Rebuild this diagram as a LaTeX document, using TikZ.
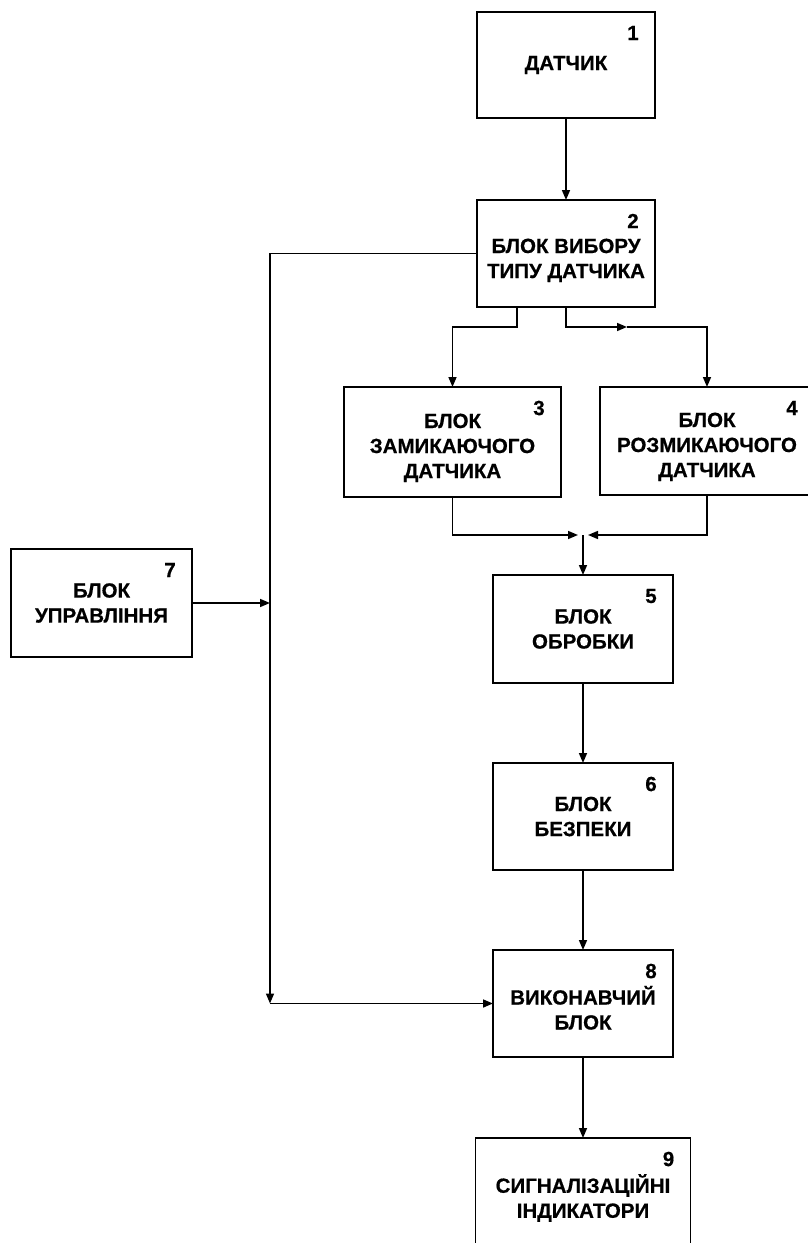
\documentclass[tikz,border=0pt]{standalone}
\usepackage{fontspec}
\setmainfont{Liberation Sans}[BoldFeatures={FakeBold=0.6}]
\usetikzlibrary{arrows.meta, positioning, calc}
\newcommand{\dropped}[2]{\raisebox{0pt}[\dimexpr\height+#1\relax]{\begin{tabular}{@{}c@{}}#2\end{tabular}}}

\begin{document}
\begin{tikzpicture}[
    x=1pt, y=-1pt,
    node distance=80pt,
    blk/.style={draw, line width=1.6pt, inner sep=0pt, outer sep=0pt, align=center, font=\bfseries\fontsize{20.5}{25}\selectfont},
    arrow/.style={-{Triangle[length=10pt, width=8pt]}, line width=1.6pt},
    num/.style={font=\bfseries\fontsize{20.5}{20}\selectfont, anchor=center, xshift=-22pt, yshift=-21pt}
  ]
  \useasboundingbox (0,0) rectangle (808,1243);

  % Sensor and selector
  \node[blk, minimum width=178pt, minimum height=106pt, label={[num]north east:1}] (b1) at (566,65) {ДАТЧИК};
  \node[blk, minimum width=178pt, minimum height=107pt, below=82pt of b1, label={[num]north east:2}] (b2) {\dropped{14pt}{БЛОК ВИБОРУ\\ТИПУ ДАТЧИКА}};

  % Sensor type blocks
  \node[blk, minimum width=217pt, minimum height=110pt, label={[num]north east:3}] (b3) at (452.5,442) {\dropped{12pt}{БЛОК\\ЗАМИКАЮЧОГО\\ДАТЧИКА}};
  \node[blk, minimum width=214pt, minimum height=108pt, label={[num]north east:4}] (b4) at (707,441) {\dropped{12pt}{БЛОК\\РОЗМИКАЮЧОГО\\ДАТЧИКА}};

  % Processing chain
  \node[blk, minimum width=180pt, minimum height=108pt, label={[num]north east:5}] (b5) at (583,629) {БЛОК\\ОБРОБКИ};
  \node[blk, minimum width=180pt, minimum height=107pt, below=80pt of b5, label={[num]north east:6}] (b6) {БЛОК\\БЕЗПЕКИ};
  \node[blk, minimum width=180pt, minimum height=107pt, below=80pt of b6, label={[num]north east:8}] (b8) {\dropped{16pt}{ВИКОНАВЧИЙ\\БЛОК}};
  \node[blk, minimum width=215pt, minimum height=120pt, below=81pt of b8, label={[num]north east:9}] (b9) {СИГНАЛІЗАЦІЙНІ\\ІНДИКАТОРИ};

  % Control block
  \node[blk, minimum width=181pt, minimum height=108pt, label={[num]north east:7}] (b7) at (101.5,603) {БЛОК\\УПРАВЛІННЯ};

  % Junction points
  \coordinate (busx) at (270,0);
  \coordinate (bus) at (busx |- b8.west);
  \coordinate (j7) at (b7.east -| bus);
  \coordinate (x2) at ($(b2.south)+(-49,0)$);
  \coordinate (mid) at (627,327);
  \coordinate (jn) at (583,535);
  \coordinate (jl) at (578,535);
  \coordinate (jr) at (588,535);

  % Arrows
  \draw[arrow] (b1) -- (b2);
  \draw[arrow] (x2) -- ++(0,20) -| (b3.north);
  \draw[arrow] (b2.south) |- (mid);
  \draw[arrow] (mid) -| (b4.north);
  \draw[arrow] (b3.south) |- (jl);
  \draw[arrow] (b4.south) |- (jr);
  \draw[arrow] (jn) -- (b5.north);
  \draw[arrow] (b5) -- (b6);
  \draw[arrow] (b6) -- (b8);
  \draw[arrow] (b8) -- (b9);
  \draw[arrow] (b2.west) -| (bus);
  \draw[arrow] (bus) -- (b8.west);
  \draw[arrow] (b7.east) -- (j7);

\end{tikzpicture}
\end{document}
